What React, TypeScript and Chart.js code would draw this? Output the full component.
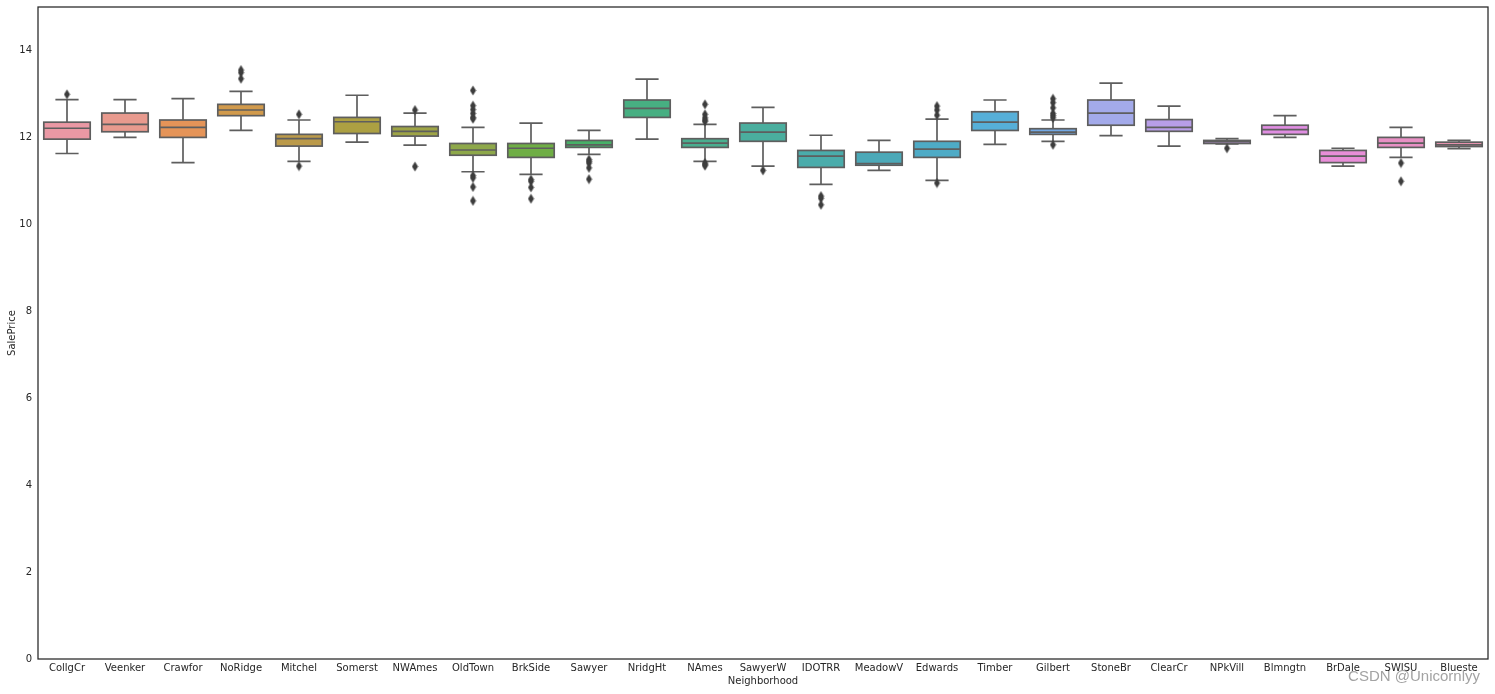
import React, { useEffect, useRef } from "react";
import { Chart, registerables } from "chart.js";

Chart.register(...registerables);

const categories = [
  "CollgCr", "Veenker", "Crawfor", "NoRidge", "Mitchel", "Somerst", "NWAmes", "OldTown",
  "BrkSide", "Sawyer", "NridgHt", "NAmes", "SawyerW", "IDOTRR", "MeadowV", "Edwards",
  "Timber", "Gilbert", "StoneBr", "ClearCr", "NPkVill", "Blmngtn", "BrDale", "SWISU", "Blueste",
];

const whiskerLow = [11.63, 12.0, 11.42, 12.16, 11.45, 11.89, 11.82, 11.21, 11.15, 11.61, 11.96, 11.45, 11.34, 10.92, 11.24, 11.01, 11.84, 11.91, 12.04, 11.8, 11.85, 12.0, 11.34, 11.54, 11.74];
const q1 = [11.96, 12.13, 12.0, 12.5, 11.8, 12.09, 12.03, 11.59, 11.54, 11.77, 12.46, 11.77, 11.91, 11.31, 11.36, 11.54, 12.16, 12.07, 12.28, 12.14, 11.86, 12.07, 11.42, 11.77, 11.79];
const median = [12.21, 12.3, 12.23, 12.63, 11.97, 12.36, 12.14, 11.71, 11.75, 11.83, 12.67, 11.87, 12.12, 11.57, 11.4, 11.73, 12.35, 12.12, 12.56, 12.23, 11.9, 12.18, 11.57, 11.87, 11.83];
const q3 = [12.35, 12.56, 12.4, 12.76, 12.07, 12.46, 12.25, 11.86, 11.86, 11.93, 12.86, 11.97, 12.33, 11.7, 11.66, 11.91, 12.59, 12.2, 12.86, 12.41, 11.93, 12.28, 11.7, 12.0, 11.89];
const whiskerHigh = [12.87, 12.87, 12.89, 13.06, 12.4, 12.97, 12.56, 12.23, 12.33, 12.16, 13.34, 12.3, 12.69, 12.05, 11.93, 12.42, 12.86, 12.4, 13.25, 12.72, 11.97, 12.5, 11.75, 12.23, 11.93];
const outliers: number[][] = [
  [12.99],
  [],
  [],
  [13.35, 13.49, 13.55],
  [12.53, 11.34],
  [],
  [12.63, 11.33],
  [13.08, 12.73, 12.64, 12.55, 12.46, 12.43, 11.12, 11.07, 10.86, 10.54],
  [11.03, 10.99, 10.85, 10.59],
  [11.49, 11.45, 11.41, 11.3, 11.04],
  [],
  [12.76, 12.53, 12.45, 12.4, 12.37, 11.41, 11.38, 11.35],
  [11.24],
  [10.65, 10.6, 10.45],
  [],
  [12.72, 12.63, 12.51, 10.95],
  [],
  [12.89, 12.8, 12.68, 12.55, 12.5, 12.45, 11.83],
  [],
  [],
  [11.75],
  [],
  [],
  [11.41, 10.99],
  [],
];
const yTicks = [0, 2, 4, 6, 8, 10, 12, 14];

const palette = [
  "#ea98a4", "#e89a8e", "#e59458", "#d19a4c", "#bb9a4a", "#aca042", "#9ea446", "#8ea84a",
  "#6fae45", "#48b068", "#47af82", "#4aae8f", "#4aae9e", "#4aacab", "#4ca9b8", "#4eabc6",
  "#56afd8", "#72a8e4", "#a3aaea", "#b89ee8", "#c79ce8", "#e08ee2", "#e88ed8", "#e890c4", "#ea93b0",
];

const LINE = "#5e5e5e";
const TEXT = "#262626";

export default function App() {
  const ref = useRef<HTMLCanvasElement | null>(null);

  useEffect(() => {
    const canvas = ref.current;
    if (!canvas) return;

    // thin diamond marker
    const marker = document.createElement("canvas");
    marker.width = 7;
    marker.height = 11;
    const mctx = marker.getContext("2d")!;
    mctx.fillStyle = "#3d3d3d";
    mctx.beginPath();
    mctx.moveTo(3.5, 0.5);
    mctx.lineTo(6.5, 5.5);
    mctx.lineTo(3.5, 10.5);
    mctx.lineTo(0.5, 5.5);
    mctx.closePath();
    mctx.fill();

    const outlierPoints: { x: string; y: number }[] = [];
    outliers.forEach((arr, i) => arr.forEach((v) => outlierPoints.push({ x: categories[i], y: v })));

    const boxPlugin = {
      id: "boxLines",
      afterDatasetDraw(chart: any, args: any) {
        if (args.index !== 0) return;
        const ctx = chart.ctx;
        const y = chart.scales.y;
        const meta = chart.getDatasetMeta(0);
        ctx.save();
        ctx.strokeStyle = LINE;
        ctx.lineWidth = 1.7;
        ctx.lineCap = "butt";
        meta.data.forEach((el: any, i: number) => {
          const cx = el.x;
          const w = el.width;
          const yq1 = y.getPixelForValue(q1[i]);
          const yq3 = y.getPixelForValue(q3[i]);
          const ym = y.getPixelForValue(median[i]);
          const ylo = y.getPixelForValue(whiskerLow[i]);
          const yhi = y.getPixelForValue(whiskerHigh[i]);
          const cw = w / 4;
          ctx.beginPath();
          ctx.moveTo(cx, yq3);
          ctx.lineTo(cx, yhi);
          ctx.moveTo(cx, yq1);
          ctx.lineTo(cx, ylo);
          ctx.moveTo(cx - cw, yhi);
          ctx.lineTo(cx + cw, yhi);
          ctx.moveTo(cx - cw, ylo);
          ctx.lineTo(cx + cw, ylo);
          ctx.stroke();
          ctx.strokeRect(cx - w / 2, yq3, w, yq1 - yq3);
          ctx.beginPath();
          ctx.moveTo(cx - w / 2, ym);
          ctx.lineTo(cx + w / 2, ym);
          ctx.stroke();
        });
        ctx.restore();
      },
      afterDraw(chart: any) {
        const { ctx, chartArea } = chart;
        ctx.save();
        ctx.strokeStyle = TEXT;
        ctx.lineWidth = 1.25;
        ctx.strokeRect(chartArea.left, chartArea.top, chartArea.right - chartArea.left, chartArea.bottom - chartArea.top);
        ctx.restore();
      },
    };

    Chart.defaults.font.family = "'DejaVu Sans', sans-serif";
    Chart.defaults.font.size = 10;
    Chart.defaults.color = TEXT;

    const chart = new Chart(canvas, {
      type: "bar",
      data: {
        labels: categories,
        datasets: [
          {
            type: "bar",
            data: categories.map((_, i) => [q1[i], q3[i]]) as any,
            backgroundColor: palette,
            borderWidth: 0,
            barPercentage: 0.8,
            categoryPercentage: 1,
            order: 1,
          },
          {
            type: "scatter",
            data: outlierPoints as any,
            pointStyle: marker as any,
            pointRadius: 4,
            order: -1,
          } as any,
        ],
      },
      options: {
        animation: false,
        responsive: false,
        devicePixelRatio: 1,
        layout: { padding: { top: 7, right: 7, left: 0, bottom: 0 } },
        plugins: { legend: { display: false }, tooltip: { enabled: false } },
        scales: {
          x: {
            type: "category",
            offset: true,
            grid: { display: false, drawTicks: false },
            border: { display: false },
            ticks: { autoSkip: false, maxRotation: 0, minRotation: 0, padding: 3, color: TEXT },
            title: { display: true, text: "Neighborhood", color: TEXT, padding: { top: 0, bottom: 7 } },
            afterFit: (s: any) => {
              s.height = 35;
              s.paddingLeft = 0;
              s.paddingRight = 0;
            },
          },
          y: {
            type: "linear",
            min: 0,
            max: 15,
            grid: { display: false, drawTicks: false },
            border: { display: false },
            ticks: { padding: 6, color: TEXT },
            afterBuildTicks: (s: any) => { s.ticks = yTicks.map((v) => ({ value: v })); },
            title: { display: true, text: "SalePrice", color: TEXT, padding: { top: 6, bottom: 0 } },
            afterFit: (s: any) => {
              s.width = 38;
              s.paddingTop = 0;
              s.paddingBottom = 0;
            },
          },
        },
      },
      plugins: [boxPlugin],
    });

    return () => chart.destroy();
  }, []);

  return (
    <div style={{ position: "absolute", left: 0, top: 0, width: 1495, height: 694, background: "#fff" }}>
      <canvas ref={ref} width={1495} height={694} style={{ display: "block", width: 1495, height: 694 }} />
      <div
        style={{
          position: "absolute",
          right: 15,
          top: 667,
          fontFamily: "'Liberation Sans', Arial, sans-serif",
          fontSize: 15,
          color: "#a3a3a3",
          whiteSpace: "nowrap",
          lineHeight: "18px",
        }}
      >
        CSDN @Unicornlyy
      </div>
    </div>
  );
}
